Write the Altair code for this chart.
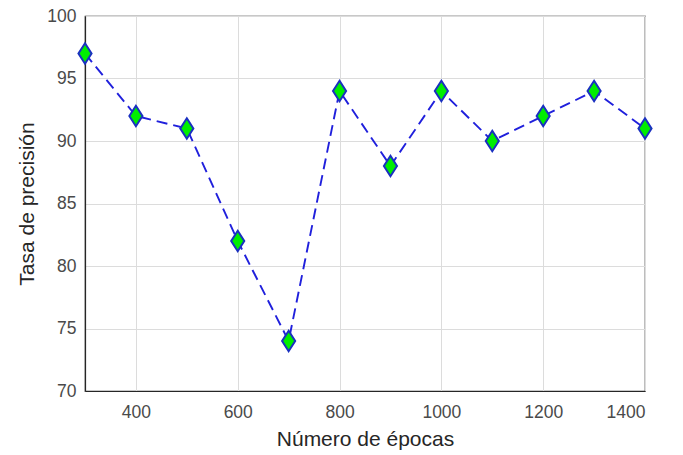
import altair as alt
import pandas as pd

epochs = [300, 400, 500, 600, 700, 800, 900, 1000, 1100, 1200, 1300, 1400]
accuracy = [97, 92, 91, 82, 74, 94, 88, 94, 90, 92, 94, 91]
x_ticks = [400, 600, 800, 1000, 1200, 1400]
y_ticks = [70, 75, 80, 85, 90, 95, 100]

df = pd.DataFrame({"epocas": epochs, "precision": accuracy})

FONT = "Liberation Sans"
axis_style = dict(ticks=False, gridColor="#dcdcdc",
                  domainColor="#262626", domainWidth=1.2,
                  labelFont=FONT, titleFont=FONT, labelFontSize=17.5, titleFontSize=21,
                  labelColor="#4a4a4a", titleColor="#262626", titleFontWeight="normal")

x = alt.X("epocas:Q", scale=alt.Scale(domain=[300, 1400], nice=False, zero=False),
          axis=alt.Axis(title="Número de épocas", values=x_ticks, format="d",
                        labelPadding=12, titlePadding=8, **axis_style))
y = alt.Y("precision:Q", scale=alt.Scale(domain=[70, 100], nice=False, zero=False),
          axis=alt.Axis(title="Tasa de precisión", values=y_ticks,
                        labelPadding=9, titlePadding=9, **axis_style))

base = alt.Chart(df)
line = base.mark_line(color="#2020dc", strokeDash=[11, 6], strokeWidth=1.9).encode(x=x, y=y)
pts = base.mark_point(shape="M0,-1L0.64,0L0,1L-0.64,0Z", filled=True, fill="#00ee00",
                      stroke="#1a30c0", strokeWidth=2, size=420, opacity=1).encode(x=x, y=y)

chart = (line + pts).properties(
    width=560, height=375,
    background="white",
    autosize=alt.AutoSizeParams(type="none"),
    padding={"left": 85, "top": 16, "right": 38, "bottom": 64},
).configure_view(stroke="#262626", strokeWidth=1.2)

chart.save("out.html", embed_options={"renderer": "svg", "actions": False})
